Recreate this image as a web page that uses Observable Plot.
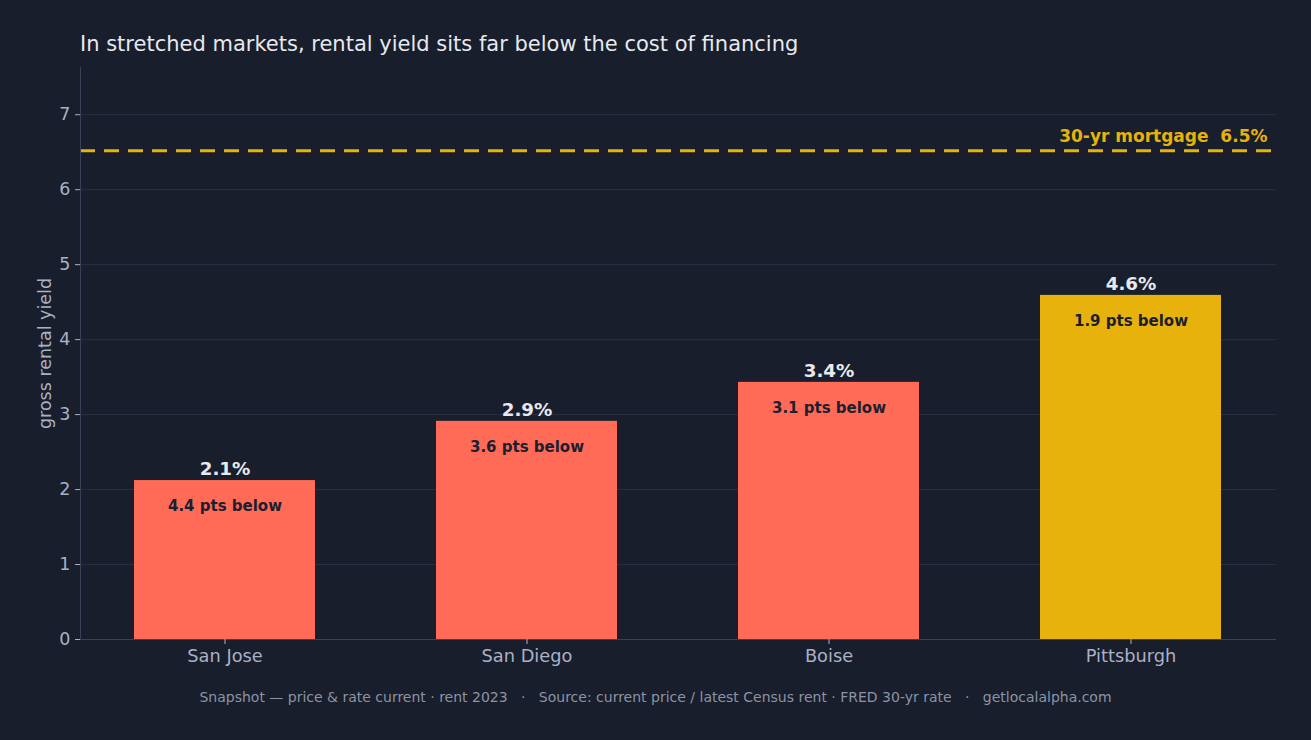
<!DOCTYPE html>
<html>
<head>
<meta charset="utf-8">
<script src="https://cdn.jsdelivr.net/npm/d3@7"></script>
<script src="https://cdn.jsdelivr.net/npm/@observablehq/plot@0.6"></script>
<style>
  html, body { margin: 0; padding: 0; background: #181e2b; }
  #wrap { position: relative; width: 1311px; height: 740px; overflow: hidden; font-family: "DejaVu Sans", sans-serif; }
  #title { position: absolute; left: 80px; top: 31px; font-size: 21px; color: #e6e9ef; white-space: pre; line-height: 26px; }
  #chart { position: absolute; left: 0; top: 0; }
  #caption { position: absolute; left: 0; width: 1311px; top: 688px; text-align: center; font-size: 14px; color: #8c93a5; white-space: pre; line-height: 18px; }
</style>
</head>
<body>
<div id="wrap">
  <div id="chart"></div>
  <div id="title">In stretched markets, rental yield sits far below the cost of financing</div>
  <div id="caption">Snapshot — price &amp; rate current · rent 2023   ·   Source: current price / latest Census rent · FRED 30-yr rate   ·   getlocalalpha.com</div>
</div>
<script>
// Gross rental yield (%) by metro, against the 30-year mortgage rate
const cities = ["San Jose", "San Diego", "Boise", "Pittsburgh"];
const grossYield = [2.12, 2.91, 3.43, 4.59];
const barColors = ["#ff6b57", "#ff6b57", "#ff6b57", "#e8b20c"];
const mortgageRate = 6.52;
const yTicks = [0, 1, 2, 3, 4, 5, 6, 7];

const rows = cities.map((city, i) => ({
  city,
  value: grossYield[i],
  fill: barColors[i],
  gap: mortgageRate - grossYield[i]
}));

const chart = Plot.plot({
  width: 1311,
  height: 740,
  marginTop: 67,
  marginBottom: 101,
  marginLeft: 80,
  marginRight: 35,
  style: { background: "transparent", fontFamily: "DejaVu Sans", color: "#aab1c5", overflow: "visible" },
  x: { domain: cities, paddingInner: 0.4, paddingOuter: 0.18, label: null },
  y: { domain: [0, 7.63], label: null },
  color: { type: "identity" },
  marks: [
    Plot.gridY(yTicks, { stroke: "#2a3142", strokeOpacity: 1 }),
    Plot.barY(rows, { x: "city", y: "value", fill: "fill" }),
    Plot.ruleY([mortgageRate], { stroke: "#e8b20c", strokeWidth: 3, strokeDasharray: "15,9" }),
    Plot.text([mortgageRate], {
      y: (d) => d, frameAnchor: "right", textAnchor: "end", dx: -9, dy: -14,
      text: (d) => `30-yr mortgage  ${d.toFixed(1)}%`,
      fill: "#e8b20c", fontSize: 17, fontWeight: "bold"
    }),
    Plot.frame({ anchor: "left", stroke: "#3a4258" }),
    Plot.ruleY([0], { stroke: "#3a4258" }),
    Plot.axisY({
      ticks: yTicks, tickSize: 5, tickPadding: 5, fontSize: 17.5,
      label: "gross rental yield", labelAnchor: "center", labelArrow: "none", labelOffset: 42
    }),
    Plot.axisX({ tickSize: 5, tickPadding: 5, fontSize: 17.8, label: null }),
    Plot.text(rows, {
      x: "city", y: "value", dy: -11,
      text: (d) => `${d.value.toFixed(1)}%`,
      fill: "#e6e9ef", fontSize: 18.3, fontWeight: "bold"
    }),
    Plot.text(rows, {
      x: "city", y: "value", dy: 26,
      text: (d) => `${d.gap.toFixed(1)} pts below`,
      fill: "#1b2030", fontSize: 15, fontWeight: "bold"
    })
  ]
});

document.getElementById("chart").appendChild(chart);
</script>
</body>
</html>
